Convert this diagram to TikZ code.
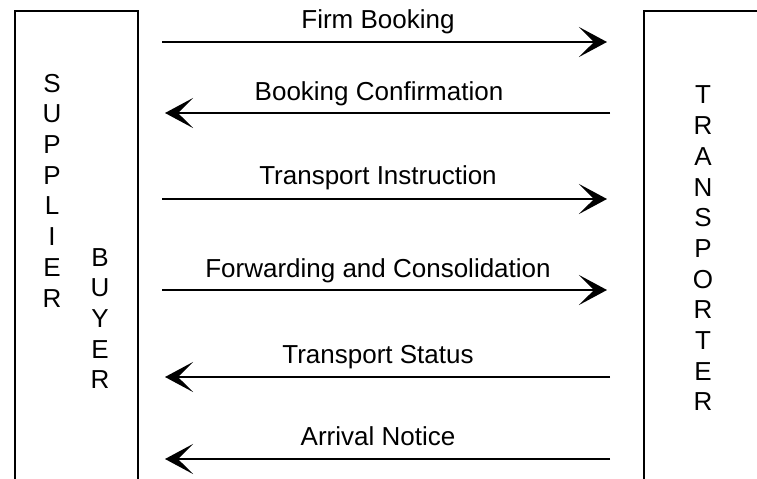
\documentclass[tikz,border=0pt]{standalone}
\usepackage{fontspec}
\setmainfont{Liberation Sans}
\usetikzlibrary{arrows.meta}

\tikzset{
  party/.style={draw, line width=1pt, inner sep=0pt, anchor=north west},
  stack/.style={font=\fontsize{13}{15.35}\selectfont, align=center, inner sep=0pt},
  lbl/.style={font=\fontsize{13}{15.6}\selectfont, anchor=base, inner sep=0pt},
  msg/.style={line width=1pt, -{Stealth[length=14pt, width=15pt, inset=7.5pt]}}
}

\begin{document}
\begin{tikzpicture}[x=0.5pt, y=-0.5pt]
\useasboundingbox (0,0) rectangle (757,478);
\clip (0,0) rectangle (757,478);

% the two parties
\node[party, minimum width=61.5pt, minimum height=270pt] (sb) at (14,10) {};
\node[party, minimum width=100pt, minimum height=270pt] (tr) at (643,10) {};

\node[stack] (sup) at (52,190.5) {S\\U\\P\\P\\L\\I\\E\\R};
\node[stack] (buy) at (100,318.5) {B\\U\\Y\\E\\R};
\node[stack] (trn) at (703,248.5) {T\\R\\A\\N\\S\\P\\O\\R\\T\\E\\R};

% message ends
\coordinate (fb-a) at (162,42);  \coordinate (fb-b) at (607,42);
\coordinate (bc-a) at (610,113); \coordinate (bc-b) at (165,113);
\coordinate (ti-a) at (162,199); \coordinate (ti-b) at (607,199);
\coordinate (fc-a) at (162,290); \coordinate (fc-b) at (607,290);
\coordinate (ts-a) at (610,377); \coordinate (ts-b) at (165,377);
\coordinate (an-a) at (610,459); \coordinate (an-b) at (165,459);

\draw[msg] (fb-a) -- (fb-b);
\draw[msg] (bc-a) -- (bc-b);
\draw[msg] (ti-a) -- (ti-b);
\draw[msg] (fc-a) -- (fc-b);
\draw[msg] (ts-a) -- (ts-b);
\draw[msg] (an-a) -- (an-b);

\node[lbl] (fb) at (378,28) {Firm Booking};
\node[lbl] (bc) at (379,100) {Booking Confirmation};
\node[lbl] (ti) at (378,184) {Transport Instruction};
\node[lbl] (fc) at (378,277) {Forwarding and Consolidation};
\node[lbl] (ts) at (378,363) {Transport Status};
\node[lbl] (an) at (378,445) {Arrival Notice};

\end{tikzpicture}
\end{document}
